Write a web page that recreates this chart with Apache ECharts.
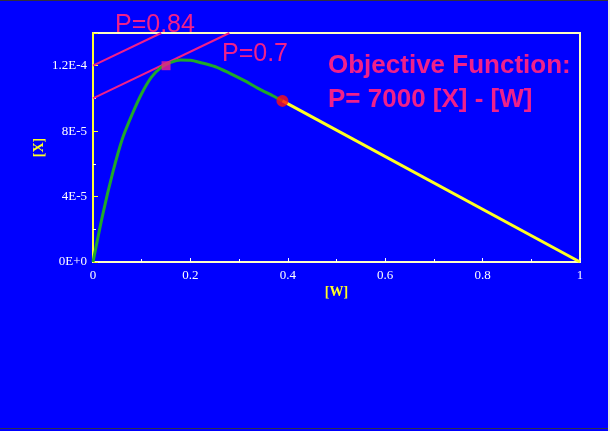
<!DOCTYPE html>
<html>
<head>
<meta charset="utf-8">
<script src="https://cdn.jsdelivr.net/npm/echarts@6/dist/echarts.min.js"></script>
<style>
html,body{margin:0;padding:0;background:#0000ff;}
#chart{width:610px;height:431px;}
</style>
</head>
<body>
<div id="chart"></div>
<script>
// Green curve: [W] vs [X]
var curveW = [0, 0.02, 0.04, 0.06, 0.08, 0.10, 0.12, 0.14, 0.16, 0.18, 0.20, 0.22, 0.25, 0.28, 0.31, 0.34, 0.37, 0.389];
var curveX = [0, 2.9e-5, 5.4e-5, 7.5e-5, 9.0e-5, 1.03e-4, 1.13e-4, 1.19e-4, 1.22e-4, 1.235e-4, 1.233e-4, 1.22e-4, 1.195e-4, 1.155e-4, 1.11e-4, 1.06e-4, 1.015e-4, 9.85e-5];
// Yellow washout line
var washW = [0.389, 1];
var washX = [9.85e-5, 0];
// Iso-profit lines
var p07W = [0, 0.28];
var p07X = [1.0e-4, 1.4e-4];
var p084W = [0, 0.14];
var p084X = [1.2e-4, 1.4e-4];
// Markers
var optimumW = [0.15];
var optimumX = [1.2e-4];
var washStartW = [0.389];
var washStartX = [9.85e-5];
// Tick labels
var xTickLabels = ['0', '0.2', '0.4', '0.6', '0.8', '1'];
var yTickLabels = ['0E+0', '4E-5', '8E-5', '1.2E-4'];

function pairs(a, b) { return a.map(function (v, i) { return [v, b[i]]; }); }

var pink = '#f0208a';
var chart = echarts.init(document.getElementById('chart'), null, {renderer: 'canvas'});
chart.setOption({
  backgroundColor: '#0000ff',
  animation: false,
  grid: {left: 93, right: 30, top: 33, bottom: 169, show: true, borderColor: '#ffffc0', borderWidth: 2, backgroundColor: 'transparent'},
  xAxis: {
    type: 'value', min: 0, max: 1, interval: 0.2,
    name: '[W]', nameLocation: 'middle', nameGap: 23, nameMoveOverlap: false,
    nameTextStyle: {color: '#ffff22', fontFamily: 'Liberation Serif', fontWeight: 'bold', fontSize: 14},
    axisLine: {lineStyle: {color: '#ffffc8', width: 2}},
    axisTick: {inside: true, length: 4, lineStyle: {color: '#ffffff'}},
    minorTick: {show: true, splitNumber: 2, length: 3, lineStyle: {color: '#ffffff'}},
    splitLine: {show: false},
    axisLabel: {color: '#ffffff', fontFamily: 'Liberation Serif', fontSize: 13, margin: 7,
      formatter: function (v, i) { return xTickLabels[i] !== undefined ? xTickLabels[i] : ''; }}
  },
  yAxis: {
    type: 'value', min: 0, max: 1.4e-4, interval: 4e-5,
    name: '[X]', nameLocation: 'middle', nameGap: 47, nameRotate: 90, nameMoveOverlap: false,
    nameTextStyle: {color: '#ffff22', fontFamily: 'Liberation Serif', fontWeight: 'bold', fontSize: 14},
    axisLine: {lineStyle: {color: '#ffff33', width: 2}},
    axisTick: {inside: true, length: 5, lineStyle: {color: '#ffff33'}},
    minorTick: {show: true, splitNumber: 2, length: 3, lineStyle: {color: '#ffffff'}},
    splitLine: {show: false},
    showMaxLabel: false,
    axisLabel: {color: '#ffffff', fontFamily: 'Liberation Serif', fontSize: 13, margin: 6,
      formatter: function (v, i) { return yTickLabels[i] !== undefined ? yTickLabels[i] : ''; }}
  },
  series: [
    {type: 'line', data: pairs(p084W, p084X), symbol: 'none', lineStyle: {color: pink, width: 2}, clip: true},
    {type: 'line', data: pairs(p07W, p07X), symbol: 'none', lineStyle: {color: pink, width: 2}, clip: true},
    {type: 'line', data: pairs(curveW, curveX), symbol: 'none', smooth: 0.3, lineStyle: {color: '#1fa82a', width: 3}},
    {type: 'line', data: pairs(washW, washX), symbol: 'none', lineStyle: {color: '#ffff22', width: 3}},
    {type: 'scatter', data: pairs(optimumW, optimumX), symbol: 'rect', symbolSize: 9, itemStyle: {color: pink}, z: 5},
    {type: 'scatter', data: pairs(washStartW, washStartX), symbol: 'circle', symbolSize: 12, itemStyle: {color: '#ff1010'}, z: 5}
  ],
  graphic: [
    {type: 'text', left: 115, top: 13, style: {text: 'P=0.84', fill: pink, font: '25px "Liberation Sans", Arial, sans-serif'}},
    {type: 'text', left: 222, top: 42, style: {text: 'P=0.7', fill: pink, font: '25px "Liberation Sans", Arial, sans-serif'}},
    {type: 'text', left: 328, top: 53, style: {text: 'Objective Function:', fill: pink, font: 'bold 26px "Liberation Sans", Arial, sans-serif'}},
    {type: 'text', left: 328, top: 87, style: {text: 'P= 7000 [X] - [W]', fill: pink, font: 'bold 26px "Liberation Sans", Arial, sans-serif'}},
    {type: 'rect', left: 0, top: 0, shape: {width: 610, height: 1}, style: {fill: '#303040'}},
    {type: 'rect', left: 0, top: 428, shape: {width: 610, height: 1}, style: {fill: '#303050'}},
    {type: 'rect', left: 608, top: 0, shape: {width: 2, height: 431}, style: {fill: '#e8e8e8'}}
  ]
});
</script>
</body>
</html>
